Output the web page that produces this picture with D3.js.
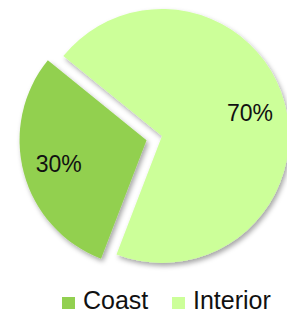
<!DOCTYPE html>
<html>
<head>
<meta charset="utf-8">
<script src="https://cdn.jsdelivr.net/npm/d3@7"></script>
<style>
  body { margin: 0; background: #fff; }
  svg { display: block; font-family: "Liberation Sans", Arial, sans-serif; }
</style>
</head>
<body>
<svg id="chart"></svg>
<script>
// data
const categories = ["Coast", "Interior"];
const values = [30, 70];
const labels = ["30%", "70%"];
const colors = ["#92d050", "#ccff99"];
const exploded = [true, false];

const w = 287, h = 313;
const cx = 162, cy = 136;
const radius = 127;
const explodeBy = 16;
const deg = Math.PI / 180;

const svg = d3.select("#chart").attr("width", w).attr("height", h);

// drop shadow for the slices
const defs = svg.append("defs");
defs.append("filter")
    .attr("id", "shadow")
    .attr("x", "-20%").attr("y", "-20%")
    .attr("width", "140%").attr("height", "140%")
  .append("feDropShadow")
    .attr("dx", 2).attr("dy", 3)
    .attr("stdDeviation", 2.5)
    .attr("flood-color", "#000")
    .attr("flood-opacity", 0.35);

const pie = d3.pie()
    .sort(null)
    .value(d => d)
    .startAngle(201 * deg)
    .endAngle(561 * deg);

const arcs = pie(values);
const arc = d3.arc().innerRadius(0).outerRadius(radius);
const labelArc = d3.arc().innerRadius(91).outerRadius(91);

function offset(d, i) {
  if (!exploded[i]) return [0, 0];
  const a = (d.startAngle + d.endAngle) / 2;
  return [Math.sin(a) * explodeBy, -Math.cos(a) * explodeBy];
}

const g = svg.append("g").attr("transform", `translate(${cx},${cy})`);

const slices = g.selectAll("g.slice")
  .data(arcs)
  .enter()
  .append("g")
  .attr("class", "slice")
  .attr("transform", (d, i) => `translate(${offset(d, i)})`);

slices.append("path")
  .attr("d", arc)
  .attr("fill", (d, i) => colors[i])
  .attr("filter", "url(#shadow)");

slices.append("text")
  .attr("transform", d => `translate(${labelArc.centroid(d)})`)
  .attr("text-anchor", "middle")
  .attr("dy", "0.36em")
  .style("font-size", "23px")
  .style("fill", "#111")
  .text((d, i) => labels[i]);

// legend
const legendX = [62, 172];
const legend = svg.selectAll("g.legend")
  .data(categories)
  .enter()
  .append("g")
  .attr("class", "legend")
  .attr("transform", (d, i) => `translate(${legendX[i]},297)`);

legend.append("rect")
  .attr("width", 13).attr("height", 12)
  .attr("fill", (d, i) => colors[i]);

legend.append("text")
  .attr("x", 21).attr("y", 12)
  .style("font-size", "25px")
  .style("fill", "#111")
  .text(d => d);
</script>
</body>
</html>
